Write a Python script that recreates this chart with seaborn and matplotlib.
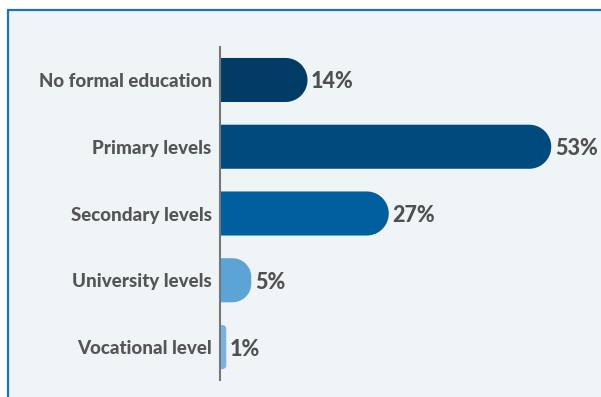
import numpy as np
import pandas as pd
import matplotlib
matplotlib.use("Agg")
import matplotlib.pyplot as plt
import matplotlib.patches as mpatches
import seaborn as sns

categories = ["No formal education", "Primary levels", "Secondary levels",
              "University levels", "Vocational level"]
shares = [14, 53, 27, 5, 1]
value_labels = ["14%", "53%", "27%", "5%", "1%"]
bar_colors = ["#013c66", "#014a7e", "#015f9d", "#5ca3d6", "#7ab2df"]

sns.set_theme(style="white")
plt.rcParams["font.family"] = ["Lato", "DejaVu Sans"]

W, H = 601, 397
fig = plt.figure(figsize=(W / 100, H / 100), dpi=100)
fig.patch.set_facecolor("white")

# panel background with a blue rule on the top and left edges
panel_bg = "#eff4f7"
rule = "#1b73b9"
fig.patches.append(mpatches.Rectangle((8 / W, 0), 1, 1 - 10 / H, transform=fig.transFigure,
                                      facecolor=panel_bg, edgecolor="none", zorder=-2))
fig.lines.append(plt.Line2D([8 / W, 1], [1 - 10 / H, 1 - 10 / H], transform=fig.transFigure,
                            color=rule, lw=1.6, zorder=-1))
fig.lines.append(plt.Line2D([8 / W, 8 / W], [0, 1 - 10 / H], transform=fig.transFigure,
                            color=rule, lw=1.6, zorder=-1))

ax_left, ax_right = 220 / W, 595 / W
ax_top, ax_bot = 1 - 46.6 / H, 1 - 380.4 / H
ax = fig.add_axes([ax_left, ax_bot, ax_right - ax_left, ax_top - ax_bot])
ax.set_facecolor("none")
ax.set_zorder(1)

df = pd.DataFrame({"level": categories, "share": shares})
sns.barplot(data=df, y="level", x="share", hue="level", palette=bar_colors,
            legend=False, orient="h", width=0.66, ax=ax)
ax.set_xlim(0, 60)
ax.set_ylim(4.5, -0.5)

fig.canvas.draw()
# data units per pixel, for building round caps in pixel terms
x_per_px = 60 / (ax.bbox.width)
y_per_px = 5 / (ax.bbox.height)

for patch, color in zip(list(ax.patches), bar_colors):
    x0, y0 = patch.get_x(), patch.get_y()
    w, h = patch.get_width(), patch.get_height()
    patch.remove()
    w_px = w / x_per_px
    h_px = h / y_per_px
    r_px = min(h_px / 2, w_px * 0.6)
    rx, ry = r_px * x_per_px, r_px * y_per_px
    x1 = x0 + w
    ytop, ybot = y0, y0 + h
    pts = [(x0, ytop), (x1 - rx, ytop)]
    t = np.linspace(-np.pi / 2, 0, 20)
    pts += [(x1 - rx + rx * np.cos(a), ytop + ry + ry * np.sin(a)) for a in t]
    pts += [(x1, ybot - ry)]
    t = np.linspace(0, np.pi / 2, 20)
    pts += [(x1 - rx + rx * np.cos(a), ybot - ry + ry * np.sin(a)) for a in t]
    pts += [(x0, ybot), (x0, ytop)]
    ax.add_patch(mpatches.Polygon(pts, closed=True, facecolor=color,
                                  edgecolor="none", zorder=2))

for i, (v, lab) in enumerate(zip(shares, value_labels)):
    ax.text(v + 3.5 * x_per_px, i, lab, va="center_baseline", ha="left",
            fontsize=15.5, fontweight="black", color="#505050")

for s in ["top", "right", "bottom"]:
    ax.spines[s].set_visible(False)
ax.spines["left"].set_color("#777777")
ax.spines["left"].set_linewidth(1.5)
ax.spines["left"].set_zorder(3)
ax.set_xticks([])
ax.set_xlabel("")
ax.set_ylabel("")
ax.tick_params(axis="y", length=0, pad=6)
for t in ax.get_yticklabels():
    t.set_fontsize(13.5)
    t.set_fontweight("black")
    t.set_color("#555555")

fig.savefig("out.png", dpi=100)
